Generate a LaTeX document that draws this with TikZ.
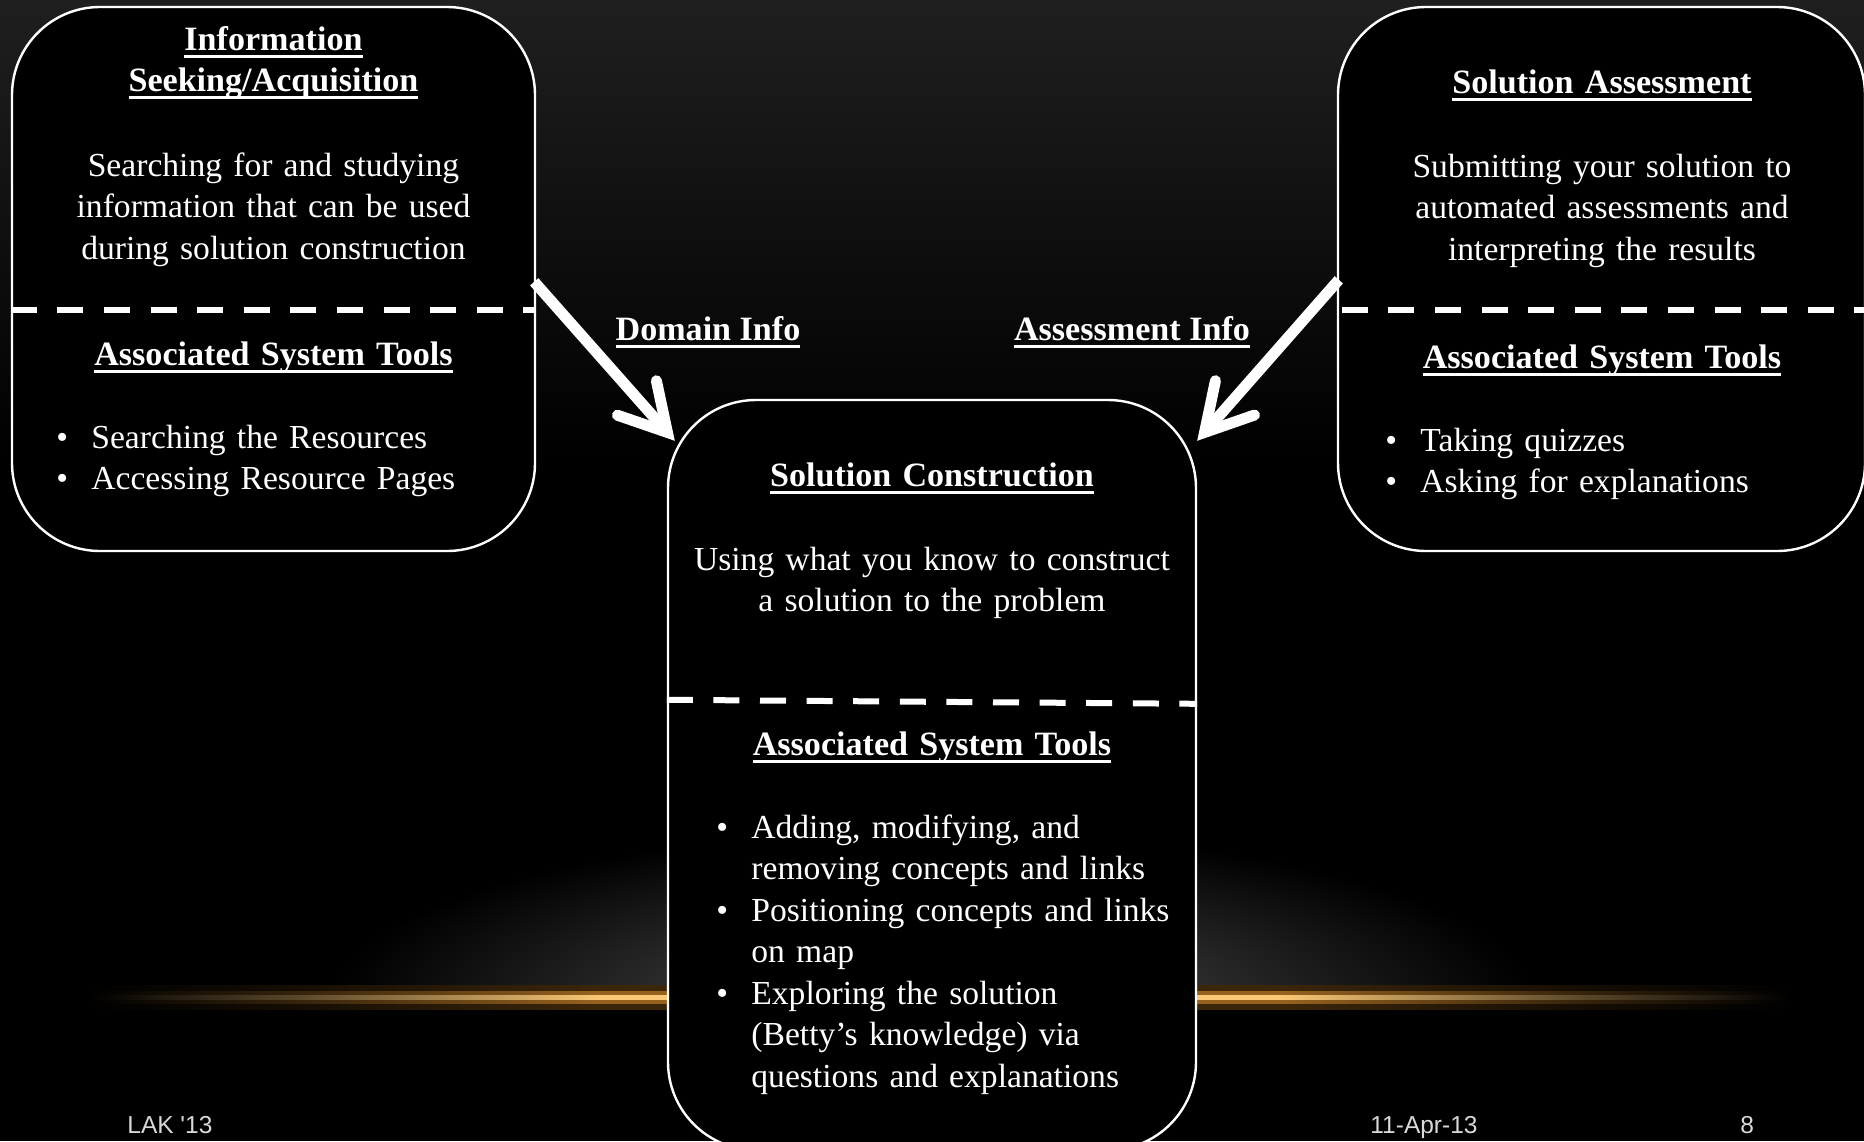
\documentclass[tikz,border=0pt]{standalone}
\usepackage{fontspec}
\setmainfont{Liberation Serif}
\newfontfamily\footfont{Liberation Sans}
\usetikzlibrary{arrows.meta,calc}

\definecolor{skytop}{RGB}{31,31,31}
\definecolor{hazecore}{RGB}{78,78,78}
\definecolor{footgray}{RGB}{217,217,217}
\colorlet{hz}{black}
% horizon line: dark at both ends, full colour across the middle
\pgfdeclarehorizontalshading[hz]{horizonfade}{100bp}{%
  color(0bp)=(black); color(25bp)=(black); color(31bp)=(hz!35!black);
  color(40bp)=(hz); color(60bp)=(hz); color(69bp)=(hz!35!black);
  color(75bp)=(black); color(100bp)=(black)}

% bold text with a fixed-depth underline
\newcommand{\ulbf}[1]{\textbf{\fontsize{17.05pt}{20.75pt}\selectfont
  \setbox0=\hbox{#1}\rlap{\rule[-0.22em]{\wd0}{0.08em}}\box0}}
\newcommand{\bitem}{\makebox[17.5pt][l]{\textbullet}}
\newcommand{\bcont}{\hspace*{17.5pt}}

\tikzset{
  panel/.style={draw=white, line width=1.2pt, fill=black, rounded corners=44pt, inner sep=0pt},
  divider/.style={draw=white, line width=3pt, dash pattern=on 13pt off 10.3pt},
  body/.style={text=white, font=\fontsize{16.8pt}{20.75pt}\selectfont, inner sep=0pt},
  ctext/.style={body, text width=255pt, align=center, anchor=base},
  ltext/.style={body, text width=250pt, align=left, anchor=base west},
  flow/.style={draw=white, line width=5.5pt,
    -{Straight Barb[length=23pt,width=26pt,line cap=round,line join=miter]}},
  foot/.style={text=footgray, font=\footfont\fontsize{12.25pt}{14pt}\selectfont,
    inner sep=0pt, anchor=base west},
}

\begin{document}
\begin{tikzpicture}[x=0.5pt,y=-0.5pt]
\useasboundingbox (0,0) rectangle (1864,1141);

% dark backdrop, lighter towards the top
\fill[black] (0,0) rectangle (1864,1141);
\shade[top color=skytop, bottom color=black] (0,0) rectangle (1864,460);

% soft haze above the horizon
\begin{scope}
  \clip (0,0) rectangle (1864,996);
  \shade[inner color=hazecore, outer color=black] (932,1000) ellipse (600 and 170);
\end{scope}

% golden horizon line, built from a wide halo down to a bright core
\definecolor{hz}{RGB}{60,38,10}
\shade[shading=horizonfade] (90,985) rectangle (1790,1009);
\definecolor{hz}{RGB}{150,98,30}
\shade[shading=horizonfade] (90,991) rectangle (1790,1003);
\definecolor{hz}{RGB}{250,200,118}
\shade[shading=horizonfade] (90,995) rectangle (1790,999.5);

% the three panels
\node[panel, minimum width=261.5pt, minimum height=272pt] (A) at (273.5,279) {};
\node[panel, minimum width=264pt, minimum height=375pt] (B) at (932,775) {};
\node[panel, minimum width=263.5pt, minimum height=272pt] (C) at (1601.5,279) {};

% dashed dividers
\draw[divider] ($(A.north west)+(0,304)$) -- ($(A.north east)+(0,304)$);
\draw[divider] ($(B.north west)+(0,301)$) -- ($(B.north east)+(0,305)$);
\draw[divider] ($(C.north west)+(5,304)$) -- ($(C.north east)+(0,304)$);

% information flow into the construction panel
\draw[flow] ($(A.north east)+(-2,276)$) -- ($(B.north west)+(8,42)$);
\draw[flow] ($(C.north west)+(2,274)$) -- ($(B.north east)+(0,42)$);

\node[body, anchor=base] (dinfo) at (708,340) {\ulbf{Domain Info}};
\node[body, anchor=base] (ainfo) at (1132,340) {\ulbf{Assessment Info}};

% information seeking panel
\node[ctext] (Atitle) at (273.5,50) {\ulbf{Information}\\\ulbf{Seeking/Acquisition}};
\node[ctext] (Abody) at (273.5,176) {Searching for and studying\\information that can be used\\during solution construction};
\node[ctext] (Atools) at (273.5,365) {\ulbf{Associated System Tools}};
\node[ltext] (Alist) at (56,448) {\bitem Searching the Resources\\\bitem Accessing Resource Pages};

% solution construction panel
\node[ctext] (Btitle) at (932,486) {\ulbf{Solution Construction}};
\node[ctext] (Bbody) at (932,570) {Using what you know to construct\\a solution to the problem};
\node[ctext] (Btools) at (932,755) {\ulbf{Associated System Tools}};
\node[ltext] (Blist) at (716,838) {\bitem Adding, modifying, and\\\bcont removing concepts and links\\\bitem Positioning concepts and links\\\bcont on map\\\bitem Exploring the solution\\\bcont (Betty’s knowledge) via\\\bcont questions and explanations};

% solution assessment panel
\node[ctext] (Ctitle) at (1602,93) {\ulbf{Solution Assessment}};
\node[ctext] (Cbody) at (1602,177) {Submitting your solution to\\automated assessments and\\interpreting the results};
\node[ctext] (Ctools) at (1602,368) {\ulbf{Associated System Tools}};
\node[ltext] (Clist) at (1385,451) {\bitem Taking quizzes\\\bitem Asking for explanations};

% footer
\node[foot] (f1) at (127,1133) {LAK '13};
\node[foot] (f2) at (1370,1133) {11-Apr-13};
\node[foot] (f3) at (1740,1133) {8};
\end{tikzpicture}
\end{document}
